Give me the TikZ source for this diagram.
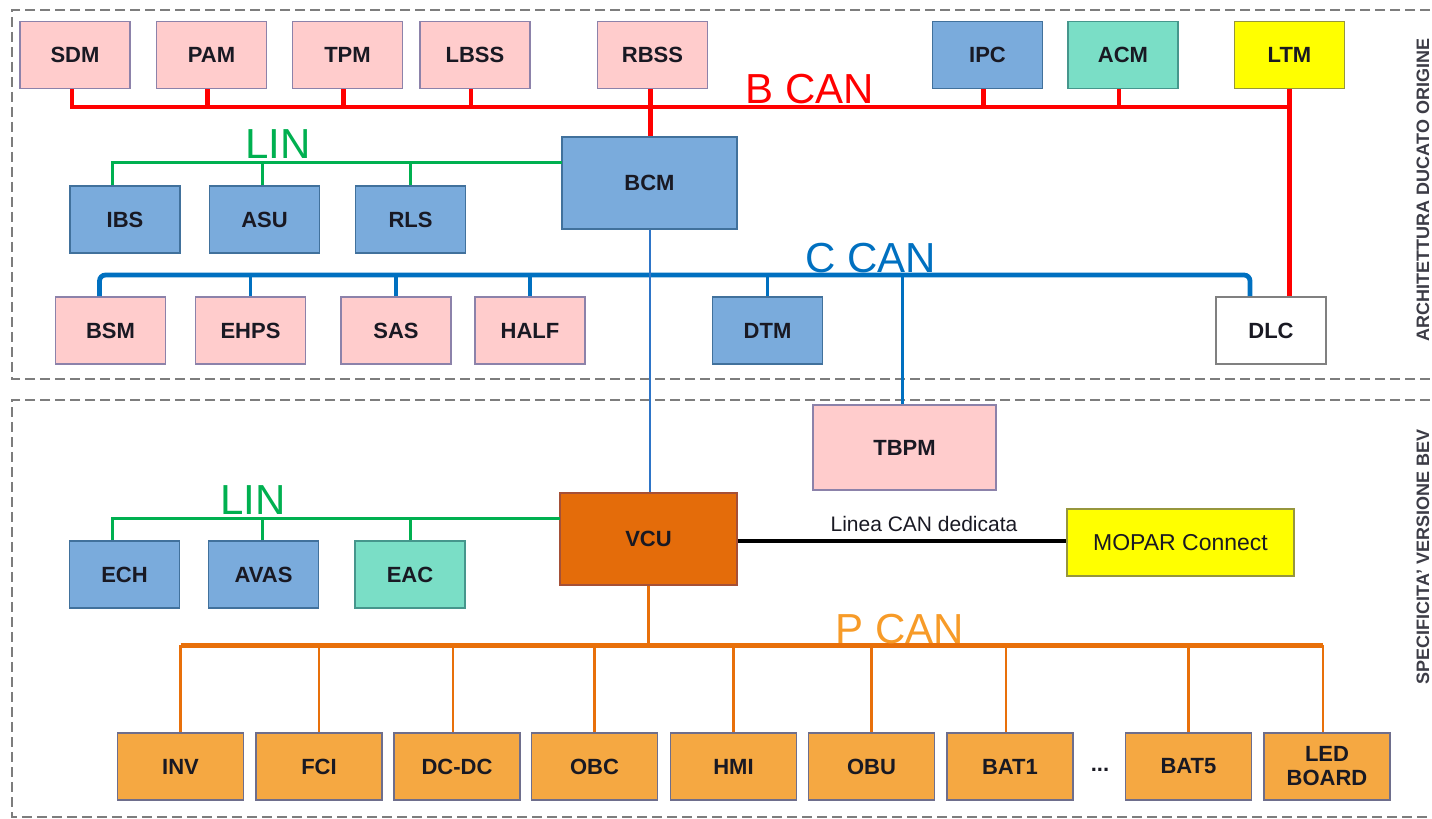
\documentclass[tikz,border=0pt]{standalone}
\usepackage{fontspec}
\setmainfont{Liberation Sans}
\definecolor{pinkfill}{RGB}{255,204,204}
\definecolor{pinkdraw}{RGB}{140,130,170}
\definecolor{bluefill}{RGB}{122,171,220}
\definecolor{bluedraw}{RGB}{65,113,156}
\definecolor{tealfill}{RGB}{122,222,198}
\definecolor{tealdraw}{RGB}{70,150,140}
\definecolor{yelfill}{RGB}{255,255,0}
\definecolor{yeldraw}{RGB}{150,150,60}
\definecolor{vcufill}{RGB}{228,108,10}
\definecolor{vcudraw}{RGB}{165,80,55}
\definecolor{orfill}{RGB}{245,168,66}
\definecolor{ordraw}{RGB}{110,110,140}
\definecolor{canred}{RGB}{255,0,0}
\definecolor{canblue}{RGB}{0,112,192}
\definecolor{thinblue}{RGB}{46,117,200}
\definecolor{lingreen}{RGB}{0,176,80}
\definecolor{canorange}{RGB}{232,112,10}
\definecolor{pcanlabel}{RGB}{247,155,40}
\definecolor{dashgray}{RGB}{125,125,125}
\definecolor{txt}{RGB}{25,25,35}
\definecolor{sidegray}{RGB}{60,60,70}
\tikzset{
  ecu/.style={draw, line width=0.9pt, inner sep=0pt, minimum width=55pt, minimum height=33.5pt,
    font=\fontsize{11}{13}\selectfont\bfseries, text=txt, align=center},
  pinkbox/.style={ecu, fill=pinkfill, draw=pinkdraw},
  bluebox/.style={ecu, fill=bluefill, draw=bluedraw},
  tealbox/.style={ecu, fill=tealfill, draw=tealdraw},
  yelbox/.style={ecu, fill=yelfill, draw=yeldraw},
  orbox/.style={ecu, fill=orfill, draw=ordraw, minimum width=63pt},
  busname/.style={inner sep=0pt, anchor=base west, font=\fontsize{21}{21}\selectfont},
  bcan/.style={draw=canred, line width=2.3pt},
  ccan/.style={draw=canblue, line width=2.4pt},
  ccandrop/.style={draw=canblue, line width=1.9pt},
  lin/.style={draw=lingreen, line width=1.5pt},
  pcanbus/.style={draw=canorange, line width=2.5pt},
  pcandrop/.style={draw=canorange, line width=1.3pt},
  area/.style={draw=dashgray, line width=1pt, dash pattern=on 5pt off 2.5pt},
  sidetext/.style={rotate=90, anchor=base, inner sep=0pt, text=sidegray, font=\fontsize{9}{9}\selectfont\bfseries}
}
\begin{document}
\begin{tikzpicture}[x=0.5pt,y=-0.5pt]
\useasboundingbox (0,0) rectangle (1432,819);
% areas
\draw[area] (1445,10) -- (12,10) -- (12,379) -- (1445,379);
\draw[area] (1445,400) -- (12,400) -- (12,817) -- (1445,817);
\node[sidetext] (side1) at (1429,190) {ARCHITETTURA DUCATO ORIGINE};
\node[sidetext] (side2) at (1429,557) {SPECIFICITA' VERSIONE BEV};

% top row
\node[pinkbox] (SDM) at (75,55) {SDM};
\node[pinkbox] (PAM) at (211.5,55) {PAM};
\node[pinkbox] (TPM) at (347.5,55) {TPM};
\node[pinkbox] (LBSS) at (475,55) {LBSS};
\node[pinkbox] (RBSS) at (652.5,55) {RBSS};
\node[bluebox] (IPC) at (987.5,55) {IPC};
\node[tealbox] (ACM) at (1123,55) {ACM};
\node[yelbox] (LTM) at (1289.5,55) {LTM};

% BCM and LIN row
\node[bluebox, minimum width=87.5pt, minimum height=46pt] (BCM) at (649.5,183) {BCM};
\node[bluebox] (IBS) at (125,219.5) {IBS};
\node[bluebox] (ASU) at (264.5,219.5) {ASU};
\node[bluebox] (RLS) at (410.5,219.5) {RLS};

% C CAN row
\node[pinkbox] (BSM) at (110.5,330.5) {BSM};
\node[pinkbox] (EHPS) at (250.5,330.5) {EHPS};
\node[pinkbox] (SAS) at (396,330.5) {SAS};
\node[pinkbox] (HALF) at (530,330.5) {HALF};
\node[bluebox] (DTM) at (767.5,330.5) {DTM};
\node[ecu, fill=white, draw=gray] (DLC) at (1271,330.5) {DLC};

% lower area
\node[pinkbox, minimum width=91.5pt, minimum height=42.5pt] (TBPM) at (904.5,447.5) {TBPM};
\node[ecu, fill=vcufill, draw=vcudraw, minimum width=88.5pt, minimum height=46pt] (VCU) at (648.5,539) {VCU};
\node[bluebox] (ECH) at (124.5,574.5) {ECH};
\node[bluebox] (AVAS) at (263.5,574.5) {AVAS};
\node[tealbox] (EAC) at (410,574.5) {EAC};
\node[yelbox, minimum width=113.5pt, font=\fontsize{11.5}{13}\selectfont] (MOPAR) at (1180.5,542.5) {MOPAR Connect};

% bottom row
\node[orbox] (INV) at (180.5,766.5) {INV};
\node[orbox] (FCI) at (319,766.5) {FCI};
\node[orbox] (DCDC) at (457,766.5) {DC-DC};
\node[orbox] (OBC) at (594.5,766.5) {OBC};
\node[orbox] (HMI) at (733.5,766.5) {HMI};
\node[orbox] (OBU) at (871.5,766.5) {OBU};
\node[orbox] (BAT1) at (1010,766.5) {BAT1};
\node[inner sep=0pt, font=\fontsize{11}{13}\selectfont\bfseries, text=txt] (dots) at (1100,770) {...};
\node[orbox] (BAT5) at (1188.5,766.5) {BAT5};
\node[orbox, font=\fontsize{11}{12}\selectfont\bfseries] (LED) at (1327,766.5) {LED\\BOARD};

% bus coordinates
\coordinate (bbus) at (0,107);
\coordinate (cbus) at (0,275);
\coordinate (cR) at (1250,275);
\coordinate (lin1) at (562,162);
\coordinate (lin2) at (560,518);
\coordinate (pbus) at (0,645);

% B CAN
\draw[bcan] ([xshift=-1.5pt]SDM.south) |- (LTM.south |- bbus);
\draw[bcan] (LTM.south) -- (LTM.south |- DLC.north);
\foreach \n in {PAM,TPM,LBSS,IPC,ACM}{
  \draw[bcan] ([xshift=-2pt]\n.south) -- ([xshift=-2pt]\n.south |- bbus);
}
\draw[bcan] ([xshift=-1pt]RBSS.south) -- ([xshift=-1pt]RBSS.south |- BCM.north);
\node[busname, text=canred] (bcanlabel) at (745,104) {B CAN};

% LIN 1
\draw[lin] ([xshift=-6.5pt]IBS.north) |- (lin1);
\draw[lin] ([xshift=-1pt]ASU.north) -- ([xshift=-1pt]ASU.north |- lin1);
\draw[lin] (RLS.north) -- (RLS.north |- lin1);
\node[busname, text=lingreen] (lin1label) at (245,158) {LIN};

% C CAN
\draw[ccan, rounded corners=3pt] ([xshift=-5.5pt]BSM.north) |- (cR) -- (cR |- DLC.north);
\foreach \n in {EHPS,SAS,HALF,DTM}{
  \draw[ccandrop] (\n.north) -- (\n.north |- cbus);
}
\draw[ccandrop] ([xshift=-1pt]TBPM.north) -- ([xshift=-1pt]TBPM.north |- cbus);
\draw[draw=thinblue, line width=1pt] (BCM.south) -- (BCM.south |- VCU.north);
\node[busname, text=canblue] (ccanlabel) at (805,272) {C CAN};

% LIN 2
\draw[lin] ([xshift=-6pt]ECH.north) |- (lin2);
\draw[lin] ([xshift=-0.5pt]AVAS.north) -- ([xshift=-0.5pt]AVAS.north |- lin2);
\draw[lin] (EAC.north) -- (EAC.north |- lin2);
\node[busname, text=lingreen] (lin2label) at (220,514) {LIN};

% dedicated CAN
\draw[black, line width=2.4pt] ([yshift=-1pt]VCU.east) -- ([yshift=-1pt]VCU.east -| MOPAR.west);
\node[inner sep=0pt, anchor=base, text=txt, font=\fontsize{10.5}{12}\selectfont] (dedlabel) at (924,531) {Linea CAN dedicata};

% P CAN
\draw[pcandrop] (VCU.south) -- (VCU.south |- pbus);
\draw[pcanbus] (INV.north |- pbus) -- ([xshift=-2pt]LED.north |- pbus);
\foreach \n in {INV,FCI,OBC,HMI,OBU,BAT5}{
  \draw[pcandrop] (\n.north) -- (\n.north |- pbus);
}
\draw[pcandrop] ([xshift=-2pt]DCDC.north) -- ([xshift=-2pt]DCDC.north |- pbus);
\draw[pcandrop] ([xshift=-2pt]BAT1.north) -- ([xshift=-2pt]BAT1.north |- pbus);
\draw[pcandrop] ([xshift=-2pt]LED.north) -- ([xshift=-2pt]LED.north |- pbus);
\node[busname, text=pcanlabel] (pcanlabel) at (835,643) {P CAN};
\end{tikzpicture}
\end{document}
